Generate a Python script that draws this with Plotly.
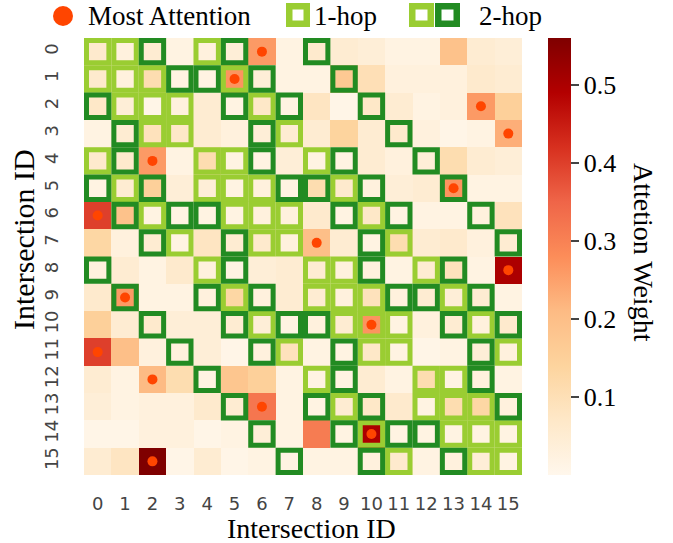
import plotly.graph_objects as go

# ---------------- data ----------------
intersection_ids = list(range(16))
tick_labels = [str(i) for i in intersection_ids]
colorbar_ticks = [0.1, 0.2, 0.3, 0.4, 0.5]

# attention weight matrix (row = query intersection, col = key intersection)
attention = [
    [.06, .03, .05, .02, .03, .04, .26, .02, .06, .05, .04, .02, .02, .19, .05, .04],
    [.06, .03, .11, .02, .02, .27, .04, .02, .02, .17, .10, .03, .03, .03, .06, .05],
    [.07, .04, .01, .03, .05, .02, .07, .02, .08, .01, .07, .05, .02, .03, .26, .15],
    [.02, .05, .09, .07, .05, .03, .04, .05, .05, .14, .05, .06, .03, .01, .02, .23],
    [.06, .06, .26, .02, .11, .02, .02, .04, .02, .02, .05, .03, .04, .11, .05, .04],
    [.02, .05, .15, .04, .04, .02, .03, .02, .11, .06, .03, .04, .05, .27, .02, .02],
    [.40, .19, .02, .02, .02, .02, .03, .03, .06, .02, .07, .02, .02, .02, .03, .09],
    [.13, .03, .05, .02, .08, .05, .06, .03, .20, .05, .02, .11, .05, .06, .03, .05],
    [.03, .05, .02, .06, .03, .02, .04, .05, .05, .03, .03, .02, .05, .09, .02, .50],
    [.06, .26, .02, .02, .03, .13, .03, .05, .05, .03, .09, .03, .05, .04, .05, .02],
    [.15, .05, .06, .04, .04, .05, .04, .02, .03, .05, .27, .02, .03, .05, .03, .06],
    [.40, .20, .03, .03, .04, .01, .03, .09, .02, .02, .07, .02, .01, .02, .04, .03],
    [.05, .02, .21, .11, .02, .18, .15, .02, .02, .02, .05, .02, .11, .02, .03, .02],
    [.04, .02, .03, .03, .06, .05, .32, .02, .02, .05, .07, .06, .02, .11, .13, .03],
    [.01, .01, .03, .03, .01, .02, .04, .02, .31, .02, .50, .02, .02, .02, .02, .02],
    [.05, .08, .56, .01, .05, .01, .02, .02, .02, .02, .03, .06, .02, .03, .04, .02],
]

# neighbourhood of each row: 0 = none, 1 = 1-hop, 2 = 2-hop
hop_rows = [
    "1120120020000000",
    "1112212002000000",
    "2111021200200000",
    "0211002100020000",
    "1200112012002000",
    "2120111221200200",
    "0212211102120020",
    "0021021100210002",
    "2000120011201200",
    "0200212011122120",
    "0020021221110212",
    "0002002102110021",
    "0000200012001120",
    "0000020021201112",
    "0000002002122111",
    "0000000200210211",
]

# column receiving the most attention in each row
most_attention_cols = [6, 5, 14, 15, 2, 13, 0, 8, 15, 1, 10, 0, 2, 6, 10, 2]

# ---------------- style ----------------
W, H = 673, 543
ML, MT = 84, 38
MR, MB = W - 522, H - 475
PW, PH = W - ML - MR, H - MT - MB
SERIF = "Liberation Serif, Times New Roman, serif"
SANS = "DejaVu Sans, sans-serif"
LIGHT = "#9acd32"
DARK = "#228b22"
DOT = "#ff4500"


def px(x):
    """page pixel x -> paper fraction"""
    return (x - ML) / PW


def py(y):
    """page pixel y -> paper fraction"""
    return (H - MB - y) / PH


fig = go.Figure()

fig.add_trace(go.Heatmap(
    z=attention, x=intersection_ids, y=intersection_ids,
    colorscale="OrRd", zmin=0, zmax=0.56,
    colorbar=dict(
        x=px(548), xanchor="left", y=0.5, yanchor="middle",
        len=1, lenmode="fraction", thickness=23,
        xpad=0, ypad=0, outlinewidth=0,
        tickvals=colorbar_ticks, ticks="outside", ticklen=8, tickwidth=2,
        tickcolor="#444", tickfont=dict(family=SERIF, size=26, color="black"),
    ),
    hoverinfo="skip",
))

fig.add_trace(go.Scatter(
    x=most_attention_cols, y=intersection_ids, mode="markers",
    marker=dict(color=DOT, size=10, line=dict(width=0)),
    showlegend=False, hoverinfo="skip",
))

shapes = []
inset = 0.091
for level, color in ((1, LIGHT), (2, DARK)):
    for r, row in enumerate(hop_rows):
        for c, ch in enumerate(row):
            if int(ch) == level:
                shapes.append(dict(
                    type="rect", xref="x", yref="y",
                    x0=c - 0.5 + inset, x1=c + 0.5 - inset,
                    y0=r - 0.5 + inset, y1=r + 0.5 - inset,
                    line=dict(color=color, width=5), fillcolor="rgba(0,0,0,0)",
                ))

# legend (drawn manually)
shapes.append(dict(type="circle", xref="paper", yref="paper",
                   x0=px(53), x1=px(73), y0=py(26), y1=py(6),
                   fillcolor=DOT, line=dict(width=0)))
for (x0, x1, color) in ((286, 310, LIGHT), (409, 434, LIGHT), (435, 460, DARK)):
    shapes.append(dict(type="rect", xref="paper", yref="paper",
                       x0=px(x0 + 3.25), x1=px(x1 - 3.25), y0=py(27 - 3.25), y1=py(3 + 3.25),
                       line=dict(color=color, width=6.5), fillcolor="white"))

annotations = [
    dict(text="Most Attention", x=px(86), y=py(15.5), xref="paper", yref="paper",
         xanchor="left", yanchor="middle", showarrow=False,
         font=dict(family=SERIF, size=27, color="black")),
    dict(text="1-hop", x=px(312), y=py(15.5), xref="paper", yref="paper",
         xanchor="left", yanchor="middle", showarrow=False,
         font=dict(family=SERIF, size=27, color="black")),
    dict(text="2-hop", x=px(477), y=py(15.5), xref="paper", yref="paper",
         xanchor="left", yanchor="middle", showarrow=False,
         font=dict(family=SERIF, size=27, color="black")),
    dict(text="Intersection ID", x=px(311), y=py(528), xref="paper", yref="paper",
         xanchor="center", yanchor="middle", showarrow=False,
         font=dict(family=SERIF, size=28, color="black")),
    dict(text="Intersection ID", x=px(24), y=py(240), xref="paper", yref="paper",
         xanchor="center", yanchor="middle", showarrow=False, textangle=-90,
         font=dict(family=SERIF, size=30, color="black")),
    dict(text="Attetion Weight", x=px(644), y=py(252), xref="paper", yref="paper",
         xanchor="center", yanchor="middle", showarrow=False, textangle=90,
         font=dict(family=SERIF, size=28, color="black")),
]

fig.update_layout(
    width=W, height=H,
    margin=dict(l=ML, r=MR, t=MT, b=MB, pad=0),
    paper_bgcolor="white", plot_bgcolor="white",
    showlegend=False,
    shapes=shapes, annotations=annotations,
    xaxis=dict(range=[-0.5, 15.5], tickvals=intersection_ids, ticktext=tick_labels,
               showgrid=False, zeroline=False, showline=False, ticks="",
               tickfont=dict(family=SANS, size=18, color="#444"),
               ticklabelstandoff=16, tickangle=0, fixedrange=True, automargin=False),
    yaxis=dict(range=[15.5, -0.5], tickvals=intersection_ids, ticktext=tick_labels,
               showgrid=False, zeroline=False, showline=False, ticks="",
               tickfont=dict(family=SANS, size=18, color="#444"),
               tickangle=-90, ticklabelstandoff=21, fixedrange=True, automargin=False),
)

# remove the browser's default 8px body margin so the figure sits at the page origin
fig.write_html("out.html", config={"displayModeBar": False},
               post_script="document.body.style.margin='0px';")
